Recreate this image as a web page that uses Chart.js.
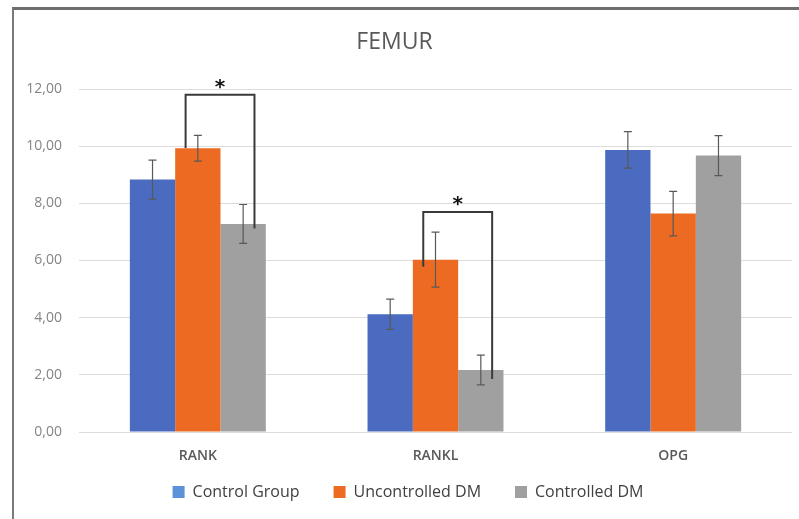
<!DOCTYPE html>
<html><head><meta charset="utf-8">
<script src="https://cdn.jsdelivr.net/npm/chart.js@4"></script>
<style>
html,body{margin:0;padding:0;background:#fff;overflow:hidden}
#frame{position:absolute;left:12px;top:7px;width:900px;height:600px;border-left:2px solid #7a7a7a;border-top:3px solid #6e6e6e}
#wrap{position:absolute;left:0;top:0;width:799px;height:519px}
</style></head><body>
<div id="frame"></div>
<div id="wrap"><canvas id="c" width="799" height="519"></canvas></div>
<script>
const chartTitle = 'FEMUR';
const categories = ['RANK', 'RANKL', 'OPG'];
const seriesNames = ['Control Group', 'Uncontrolled DM', 'Controlled DM'];
const controlGroup = [8.83, 4.12, 9.87];
const uncontrolledDM = [9.93, 6.03, 7.64];
const controlledDM = [7.28, 2.17, 9.67];
const controlGroupErr = [0.68, 0.53, 0.64];
const uncontrolledErr = [0.45, 0.96, 0.78];
const controlledErr = [0.68, 0.52, 0.70];
const yTicks = [0, 2, 4, 6, 8, 10, 12];
// significance brackets (category index, top value, left leg end, right leg end)
const sigCategories = [0, 1];
const sigTop = [11.8, 7.7];
const sigLeftEnd = [9.94, 5.78];
const sigRightEnd = [7.12, 1.85];

const barColors = ['#4a6bbf', '#ec6a22', '#a0a0a0'];
const legendColors = ['#5b92d8', '#ec6a22', '#a0a0a0'];
const errs = [controlGroupErr, uncontrolledErr, controlledErr];

const errorBarPlugin = {
  id: 'errorBars',
  afterDatasetsDraw(chart) {
    const ctx = chart.ctx, y = chart.scales.y;
    ctx.save();
    ctx.strokeStyle = '#595959';
    ctx.lineWidth = 1.2;
    chart.data.datasets.forEach((ds, di) => {
      const meta = chart.getDatasetMeta(di);
      meta.data.forEach((bar, i) => {
        const v = ds.data[i], e = errs[di][i];
        const yt = y.getPixelForValue(v + e), yb = y.getPixelForValue(v - e);
        ctx.beginPath();
        ctx.moveTo(bar.x, yt); ctx.lineTo(bar.x, yb);
        ctx.moveTo(bar.x - 4, yt); ctx.lineTo(bar.x + 4, yt);
        ctx.moveTo(bar.x - 4, yb); ctx.lineTo(bar.x + 4, yb);
        ctx.stroke();
      });
    });
    ctx.restore();
  }
};

const bracketPlugin = {
  id: 'brackets',
  afterDraw(chart) {
    const ctx = chart.ctx, y = chart.scales.y;
    const m1 = chart.getDatasetMeta(1), m2 = chart.getDatasetMeta(2);
    ctx.save();
    ctx.strokeStyle = '#3a3a3a';
    ctx.lineWidth = 2;
    sigCategories.forEach((ci, k) => {
      const b1 = m1.data[ci], b2 = m2.data[ci];
      const xl = b1.x - b1.width * 0.27;
      const xr = b2.x + b2.width * 0.25;
      const yt = y.getPixelForValue(sigTop[k]);
      ctx.beginPath();
      ctx.moveTo(xl, y.getPixelForValue(sigLeftEnd[k]));
      ctx.lineTo(xl, yt);
      ctx.lineTo(xr, yt);
      ctx.lineTo(xr, y.getPixelForValue(sigRightEnd[k]));
      ctx.stroke();
      ctx.fillStyle = '#111';
      ctx.font = 'bold 20px "DejaVu Sans"';
      ctx.textAlign = 'center';
      ctx.textBaseline = 'middle';
      ctx.fillText('*', (xl + xr) / 2, yt - 7);
    });
    ctx.restore();
  }
};

const titlePlugin = {
  id: 'customTitle',
  afterDraw(chart) {
    const ctx = chart.ctx;
    ctx.save();
    ctx.fillStyle = '#595959';
    ctx.font = '23px "Open Sans"';
    ctx.textAlign = 'center';
    ctx.textBaseline = 'middle';
    ctx.fillText(chartTitle, chart.width / 2 - 5, 42);
    ctx.restore();
  }
};

// move the legend row up a little after layout (keeps wide item spacing)
const legendShift = {
  id: 'legendShift',
  afterLayout(chart) {
    if (chart.legend) { chart.legend.top -= 16; chart.legend.bottom -= 16; }
  }
};

const seriesData = [controlGroup, uncontrolledDM, controlledDM];

new Chart(document.getElementById('c'), {
  type: 'bar',
  data: {
    labels: categories,
    datasets: seriesNames.map((n, i) => ({
      label: n,
      data: seriesData[i],
      backgroundColor: barColors[i],
      borderWidth: 0,
      categoryPercentage: 0.572,
      barPercentage: 1.0
    }))
  },
  options: {
    responsive: false,
    animation: false,
    devicePixelRatio: 1,
    layout: { padding: { left: 24, right: 7, top: 89, bottom: -7 } },
    plugins: {
      title: { display: false },
      legend: {
        position: 'bottom',
        labels: {
          color: '#404040',
          font: { family: '"Open Sans"', size: 16 },
          boxWidth: 12,
          boxHeight: 12,
          padding: 34,
          generateLabels(chart) {
            return chart.data.datasets.map((ds, i) => ({
              text: ds.label, fillStyle: legendColors[i], strokeStyle: legendColors[i],
              lineWidth: 0, datasetIndex: i, hidden: false, fontColor: '#404040'
            }));
          }
        }
      },
      tooltip: { enabled: false }
    },
    scales: {
      x: {
        grid: { display: false },
        border: { display: false },
        ticks: { color: '#595959', font: { family: '"Open Sans"', size: 14, weight: '600' }, padding: 8 },
        afterFit(s) { s.height = 34; }
      },
      y: {
        min: 0, max: 12,
        afterBuildTicks(s) { s.ticks = yTicks.map(v => ({ value: v })); },
        grid: { color: '#dcdcdc', lineWidth: 1, drawTicks: false },
        border: { display: false },
        ticks: {
          color: '#858585',
          font: { family: '"Open Sans"', size: 14 },
          padding: 17,
          callback: v => v.toFixed(2).replace('.', ',')
        },
        afterFit(s) { s.width = 55; }
      }
    }
  },
  plugins: [errorBarPlugin, bracketPlugin, titlePlugin, legendShift]
});
</script>
</body></html>
